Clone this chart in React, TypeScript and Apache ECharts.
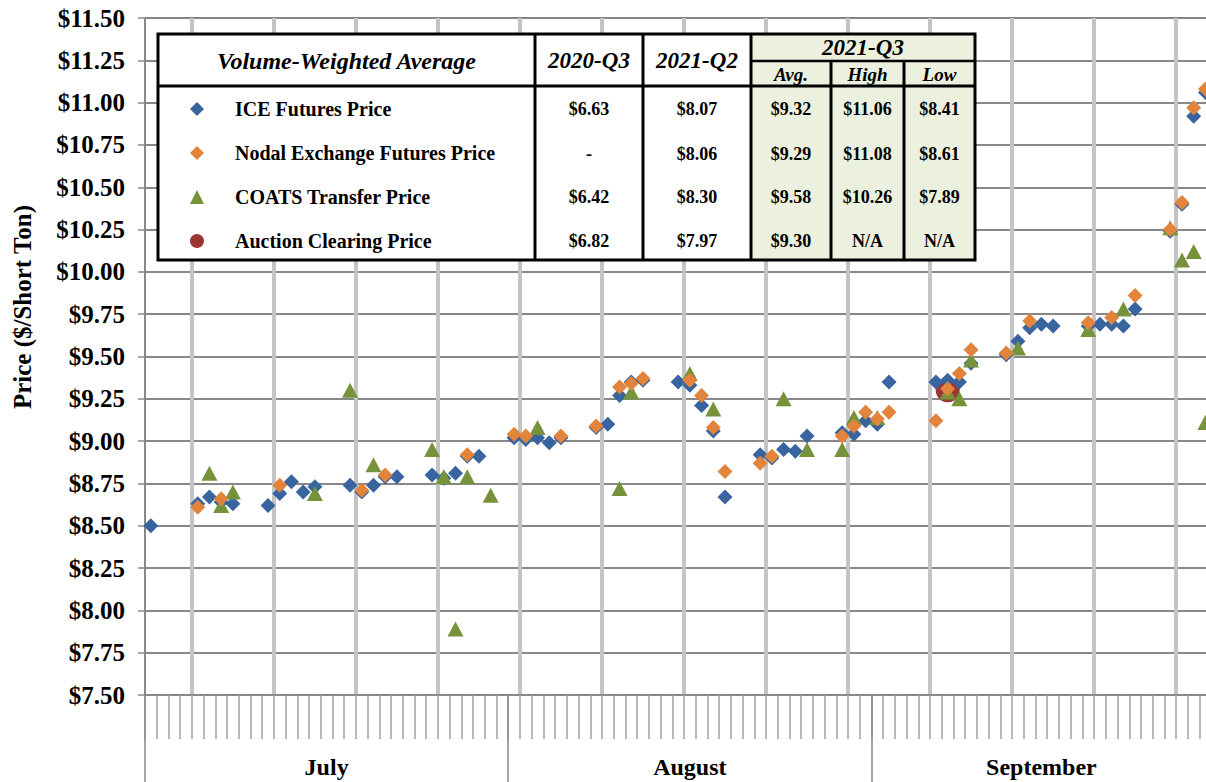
import React, { useEffect, useRef } from "react";
import * as echarts from "echarts";

// ---------- data ----------
const SERIES_NAMES = [
  "ICE Futures Price",
  "Nodal Exchange Futures Price",
  "COATS Transfer Price",
  "Auction Clearing Price",
];

const iceFutures: [string, number][] = [
  ["07-02", 8.5], ["07-06", 8.63], ["07-07", 8.67], ["07-08", 8.64], ["07-09", 8.63],
  ["07-12", 8.62], ["07-13", 8.69], ["07-14", 8.76], ["07-15", 8.7], ["07-16", 8.73],
  ["07-19", 8.74], ["07-20", 8.7], ["07-21", 8.74], ["07-22", 8.79], ["07-23", 8.79],
  ["07-26", 8.8], ["07-27", 8.78], ["07-28", 8.81], ["07-29", 8.91], ["07-30", 8.91],
  ["08-02", 9.02], ["08-03", 9.01], ["08-04", 9.02], ["08-05", 8.99], ["08-06", 9.02],
  ["08-09", 9.08], ["08-10", 9.1], ["08-11", 9.27], ["08-12", 9.35], ["08-13", 9.36],
  ["08-16", 9.35], ["08-17", 9.33], ["08-18", 9.21], ["08-19", 9.06], ["08-20", 8.67],
  ["08-23", 8.92], ["08-24", 8.9], ["08-25", 8.95], ["08-26", 8.94], ["08-27", 9.03],
  ["08-30", 9.05], ["08-31", 9.04], ["09-01", 9.12], ["09-02", 9.1], ["09-03", 9.35],
  ["09-07", 9.35], ["09-08", 9.36], ["09-09", 9.35], ["09-10", 9.46],
  ["09-13", 9.51], ["09-14", 9.59], ["09-15", 9.67], ["09-16", 9.69], ["09-17", 9.68],
  ["09-20", 9.68], ["09-21", 9.69], ["09-22", 9.69], ["09-23", 9.68], ["09-24", 9.78],
  ["09-27", 10.24], ["09-28", 10.4], ["09-29", 10.92], ["09-30", 11.06],
];

const nodalFutures: [string, number][] = [
  ["07-06", 8.61], ["07-08", 8.66], ["07-13", 8.74], ["07-20", 8.71], ["07-22", 8.8],
  ["07-29", 8.92], ["08-02", 9.04], ["08-03", 9.03], ["08-06", 9.03], ["08-09", 9.09],
  ["08-11", 9.32], ["08-12", 9.34], ["08-13", 9.37], ["08-17", 9.36], ["08-18", 9.27],
  ["08-19", 9.08], ["08-20", 8.82], ["08-23", 8.87], ["08-24", 8.91], ["08-30", 9.03],
  ["08-31", 9.09], ["09-01", 9.17], ["09-02", 9.13], ["09-03", 9.17], ["09-07", 9.12],
  ["09-08", 9.31], ["09-09", 9.4], ["09-10", 9.54], ["09-13", 9.52], ["09-15", 9.71],
  ["09-20", 9.7], ["09-22", 9.73], ["09-24", 9.86], ["09-27", 10.25], ["09-28", 10.41],
  ["09-29", 10.97], ["09-30", 11.08],
];

const coatsTransfer: [string, number][] = [
  ["07-07", 8.81], ["07-08", 8.62], ["07-09", 8.7], ["07-16", 8.69], ["07-19", 9.3],
  ["07-21", 8.86], ["07-26", 8.95], ["07-27", 8.79], ["07-28", 7.89], ["07-29", 8.79],
  ["07-31", 8.68], ["08-04", 9.08], ["08-11", 8.72], ["08-12", 9.29], ["08-17", 9.4],
  ["08-19", 9.19], ["08-25", 9.25], ["08-27", 8.95], ["08-30", 8.95], ["08-31", 9.14],
  ["09-02", 9.14], ["09-08", 9.29], ["09-09", 9.25], ["09-10", 9.48], ["09-14", 9.55],
  ["09-20", 9.66], ["09-23", 9.78], ["09-27", 10.26], ["09-28", 10.07], ["09-29", 10.12],
  ["09-30", 9.11],
];

const auctionClearing: [string, number][] = [["09-08", 9.3]];

// table values
const TABLE_TITLE = "Volume-Weighted Average";
const COL_2020Q3 = ["$6.63", "-", "$6.42", "$6.82"];
const COL_2021Q2 = ["$8.07", "$8.06", "$8.30", "$7.97"];
const COL_Q3_AVG = ["$9.32", "$9.29", "$9.58", "$9.30"];
const COL_Q3_HIGH = ["$11.06", "$11.08", "$10.26", "N/A"];
const COL_Q3_LOW = ["$8.41", "$8.61", "$7.89", "N/A"];

// axis
const Y_AXIS_TITLE = "Price ($/Short Ton)";
const MONTH_NAMES = ["July", "August", "September"];
const MONTH_LABEL_SLOTS = [15, 46, 76];
const MONTH_SEPARATOR_SLOTS = [0, 31, 62];
const Y_MIN = 7.5;
const Y_MAX = 11.5;
const Y_STEP = 0.25;

const DAY_SLOTS: string[] = (() => {
  const out: string[] = [];
  const start = Date.UTC(2021, 6, 2);
  for (let i = 0; i < 92; i++) {
    const d = new Date(start + i * 86400000);
    out.push(
      `${String(d.getUTCMonth() + 1).padStart(2, "0")}-${String(d.getUTCDate()).padStart(2, "0")}`
    );
  }
  return out;
})();

const COLORS = {
  ice: "#3864a0",
  nodal: "#e2843b",
  coats: "#76933c",
  auction: "#9c3634",
};

const SERIF = '"Liberation Serif", "Times New Roman", serif';

export default function App() {
  const ref = useRef<HTMLDivElement>(null);

  useEffect(() => {
    document.body.style.margin = "0";
    if (!ref.current) return;
    const chart = echarts.init(ref.current, undefined, { renderer: "svg" });

    // table layout
    const tL = 158, tR = 975, tT = 34, tB = 260, hB = 86, subY = 61;
    const c1 = 535, c2 = 643, c3 = 751, c4 = 831, c5 = 904;
    const rowY = [109, 154, 197, 241];
    const Z = 10;
    const line = (x1: number, y1: number, x2: number, y2: number, w = 3) => ({
      type: "line",
      z: Z + 2,
      shape: { x1, y1, x2, y2 },
      style: { stroke: "#000", lineWidth: w },
    });
    const txt = (x: number, y: number, text: string, font: string, align = "center") => ({
      type: "text",
      z: Z + 3,
      x,
      y,
      style: { text, font, fill: "#000", align, verticalAlign: "middle" },
    });
    const hdrFont = `italic bold 24px ${SERIF}`;
    const yrFont = `italic bold 23px ${SERIF}`;
    const subFont = `italic bold 19px ${SERIF}`;
    const valFont = `bold 18px ${SERIF}`;

    const graphics: any[] = [
      { type: "rect", z: Z, shape: { x: tL, y: tT, width: tR - tL, height: tB - tT }, style: { fill: "#fff" } },
      { type: "rect", z: Z + 1, shape: { x: c3, y: tT, width: tR - c3, height: tB - tT }, style: { fill: "#ebf1de" } },
      { type: "rect", z: Z + 2, shape: { x: tL, y: tT, width: tR - tL, height: tB - tT }, style: { fill: "none", stroke: "#000", lineWidth: 3 } },
      line(tL, hB, tR, hB),
      line(c3, subY, tR, subY, 2.5),
      line(c1, tT, c1, tB),
      line(c2, tT, c2, tB),
      line(c3, tT, c3, tB),
      line(c4, subY, c4, tB),
      line(c5, subY, c5, tB),
      txt((tL + c1) / 2, 61, TABLE_TITLE, hdrFont),
      txt((c1 + c2) / 2, 60, "2020-Q3", yrFont),
      txt((c2 + c3) / 2, 60, "2021-Q2", yrFont),
      txt((c3 + tR) / 2, 47, "2021-Q3", yrFont),
      txt((c3 + c4) / 2, 74, "Avg.", subFont),
      txt((c4 + c5) / 2, 74, "High", subFont),
      txt((c5 + tR) / 2, 74, "Low", subFont),
      {
        type: "text",
        z: Z,
        x: 22,
        y: 307,
        rotation: Math.PI / 2,
        style: {
          text: Y_AXIS_TITLE,
          font: `bold 25px ${SERIF}`,
          fill: "#000",
          align: "center",
          verticalAlign: "middle",
        },
      },
    ];
    rowY.forEach((y, i) => {
      graphics.push(txt((c1 + c2) / 2, y, COL_2020Q3[i], valFont));
      graphics.push(txt((c2 + c3) / 2, y, COL_2021Q2[i], valFont));
      graphics.push(txt((c3 + c4) / 2, y, COL_Q3_AVG[i], valFont));
      graphics.push(txt((c4 + c5) / 2, y, COL_Q3_HIGH[i], valFont));
      graphics.push(txt((c5 + tR) / 2, y, COL_Q3_LOW[i], valFont));
    });

    const option: any = {
      animation: false,
      backgroundColor: "#fff",
      grid: { left: 145, top: 18, width: 1078, height: 677, containLabel: false },
      legend: {
        show: true,
        orient: "vertical",
        left: 185,
        top: 94,
        z: 30,
        itemWidth: 14,
        itemHeight: 14,
        itemGap: 24,
        selectedMode: false,
        data: SERIES_NAMES,
        textStyle: {
          fontFamily: SERIF,
          fontWeight: "bold",
          fontSize: 20,
          lineHeight: 20,
          color: "#000",
          padding: [0, 0, 0, 26],
        },
      },
      xAxis: [
        {
          type: "category",
          data: DAY_SLOTS,
          boundaryGap: true,
          axisLine: { show: true, lineStyle: { color: "#888", width: 2 } },
          axisTick: {
            show: true,
            interval: 0,
            length: 44,
            lineStyle: { color: "#a0a0a0", width: 1.5 },
          },
          axisLabel: { show: false },
          splitLine: {
            show: true,
            interval: (i: number) => i % 7 === 4,
            lineStyle: { color: "#c4c4c4", width: 4 },
          },
        },
        {
          type: "category",
          data: DAY_SLOTS,
          position: "bottom",
          boundaryGap: true,
          axisLine: { show: false },
          axisTick: {
            show: true,
            interval: (i: number) => MONTH_SEPARATOR_SLOTS.includes(i),
            length: 100,
            lineStyle: { color: "#888", width: 1.5 },
          },
          axisLabel: {
            show: true,
            interval: (i: number) => MONTH_LABEL_SLOTS.includes(i),
            formatter: (_v: string, i: number) => MONTH_NAMES[MONTH_LABEL_SLOTS.indexOf(i)] ?? "",
            margin: 60,
            fontFamily: SERIF,
            fontWeight: "bold",
            fontSize: 24,
            color: "#000",
          },
          splitLine: { show: false },
        },
      ],
      yAxis: {
        type: "value",
        min: Y_MIN,
        max: Y_MAX,
        interval: Y_STEP,
        axisLine: { show: true, lineStyle: { color: "#888", width: 2 } },
        axisTick: { show: true, length: 7, lineStyle: { color: "#888", width: 1.5 } },
        axisLabel: {
          formatter: (v: number) => `$${v.toFixed(2)}`,
          fontFamily: SERIF,
          fontWeight: "bold",
          fontSize: 25,
          color: "#000",
          margin: 20,
        },
        splitLine: { show: true, lineStyle: { color: "#878787", width: 2 } },
      },
      series: [
        {
          name: SERIES_NAMES[3],
          type: "scatter",
          symbol: "circle",
          symbolSize: 24,
          itemStyle: { color: COLORS.auction, opacity: 1 },
          data: auctionClearing,
          z: 2,
        },
        {
          name: SERIES_NAMES[0],
          type: "scatter",
          symbol: "diamond",
          symbolSize: 15,
          itemStyle: { color: COLORS.ice, opacity: 1 },
          data: iceFutures,
          z: 3,
        },
        {
          name: SERIES_NAMES[2],
          type: "scatter",
          symbol: "triangle",
          symbolSize: [16, 15],
          itemStyle: { color: COLORS.coats, opacity: 1 },
          data: coatsTransfer,
          z: 4,
        },
        {
          name: SERIES_NAMES[1],
          type: "scatter",
          symbol: "diamond",
          symbolSize: 15,
          itemStyle: { color: COLORS.nodal, opacity: 1 },
          data: nodalFutures,
          z: 5,
        },
      ],
      graphic: graphics,
    };
    chart.setOption(option);
    return () => chart.dispose();
  }, []);

  return (
    <div
      style={{
        position: "fixed",
        left: 0,
        top: 0,
        width: 1206,
        height: 782,
        overflow: "hidden",
        background: "#fff",
      }}
    >
      <div ref={ref} style={{ width: 1240, height: 830 }} />
    </div>
  );
}
